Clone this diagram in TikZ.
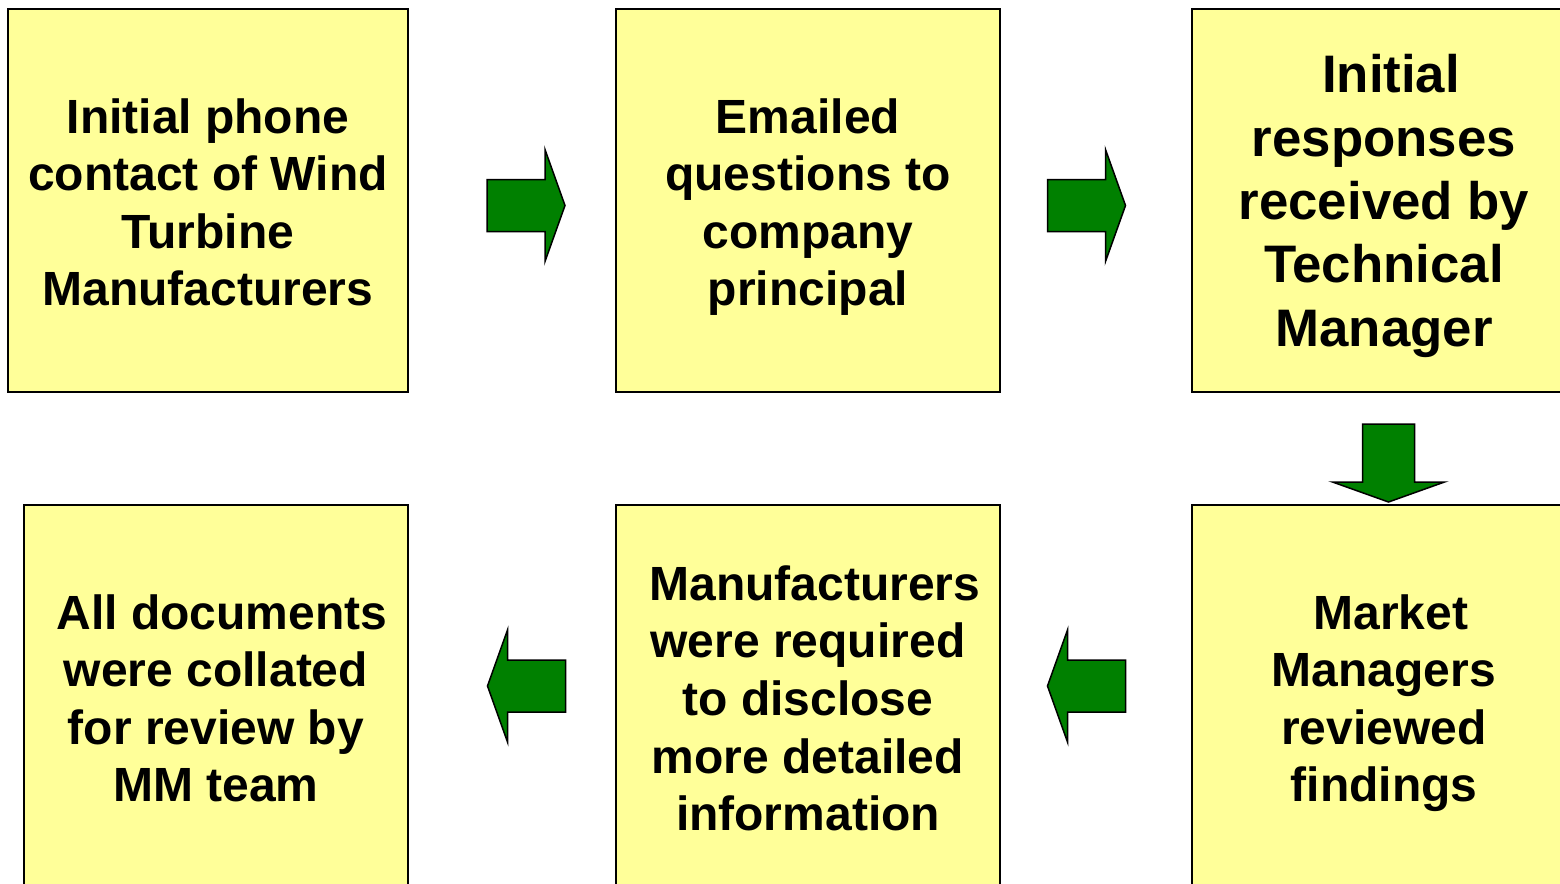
\documentclass[tikz,border=0pt]{standalone}
\usepackage{fontspec}
\setmainfont{Liberation Sans}

\definecolor{boxyellow}{RGB}{255,255,153}
\definecolor{arrowgreen}{RGB}{0,128,0}

\newcommand{\topstrut}{\rule{0pt}{26pt}}
\newcommand{\botstrut}{\rule[-7pt]{0pt}{7pt}}

\tikzset{
  stepbox/.style={draw, line width=1pt, fill=boxyellow, minimum width=192pt,
    minimum height=191.5pt, inner sep=0pt, align=center,
    font=\bfseries\fontsize{24}{28.8}\selectfont},
  bigtext/.style={font=\bfseries\fontsize{26.4}{31.7}\selectfont},
  blockarrow/.pic={
    \draw[line width=0.75pt, fill=arrowgreen]
      (-39,-26) -- (19,-26) -- (19,-56) -- (39,0) -- (19,56) -- (19,26)
      -- (-39,26) -- cycle;
  }
}

\begin{document}
\begin{tikzpicture}[x=0.5pt, y=-0.5pt]

\useasboundingbox (0,0) rectangle (1560,884);
\clip (0,0) rectangle (1560,884);

\node[stepbox, minimum width=200pt] (phone) at (208,200.5)
  {\topstrut Initial phone\\contact of Wind\\Turbine\\Manufacturers\botstrut};
\node[stepbox] (email) at (808,200.5)
  {\topstrut Emailed\\questions to\\company\\principal\botstrut};
\node[stepbox, bigtext] (respond) at (1384,200.5)
  {\topstrut\hspace*{7pt}Initial\\responses\\received by\\Technical\\Manager\botstrut};
\node[stepbox] (review) at (1384,696.5)
  {\topstrut\hspace*{7pt}Market\\Managers\\reviewed\\findings\botstrut};
\node[stepbox] (disclose) at (808,696.5)
  {\topstrut\hspace*{7pt}Manufacturers\\were required\\to disclose\\more detailed\\information\botstrut};
\node[stepbox] (collate) at (216,696.5)
  {\topstrut\hspace*{6pt}All documents\\were collated\\for review by\\MM team\botstrut};

\pic at (526,205.5) {blockarrow};
\pic at (1086.5,205.5) {blockarrow};
\pic[rotate=-90] at (1388.5,463) {blockarrow};
\pic[rotate=180] at (1086.5,686) {blockarrow};
\pic[rotate=180] at (526.5,686) {blockarrow};

\end{tikzpicture}
\end{document}
